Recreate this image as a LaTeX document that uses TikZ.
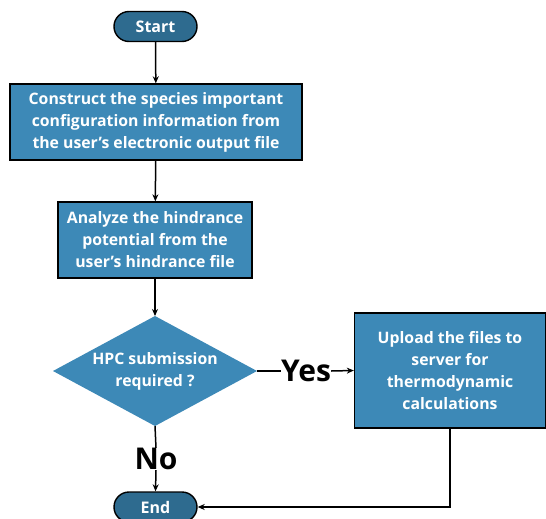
\documentclass[tikz,border=0pt]{standalone}
\usepackage{fontspec}
\setmainfont{Open Sans}
\usetikzlibrary{shapes.geometric,arrows.meta}
\definecolor{termblue}{HTML}{2E6B8F}
\definecolor{boxblue}{HTML}{3D89B7}
\begin{document}
\begin{tikzpicture}[x=1pt,y=-1pt,
  term/.style={draw=black,line width=1.4pt,fill=termblue,rounded corners=15pt,minimum width=83pt,minimum height=30pt,text=white,font=\bfseries\fontsize{16}{18}\selectfont,inner sep=0pt},
  procbox/.style={draw=black,line width=1.4pt,fill=boxblue,text=white,font=\bfseries\fontsize{15.8}{22}\selectfont,align=center,inner sep=0pt},
  conn/.style={line width=1.5pt,-{Stealth[length=7pt,width=6pt]}},
  plain/.style={line width=1.5pt},
  lbl/.style={font=\bfseries\fontsize{30}{32}\selectfont,inner sep=0pt}]
\useasboundingbox (0,0) rectangle (546,519);
\node[term] (start) at (155.5,26.5) {Start};
\node[procbox,minimum width=292pt,minimum height=76pt] (b1) at (156,122) {Construct the species important\\configuration information from\\the user’s electronic output file};
\node[procbox,minimum width=194pt,minimum height=76pt] (b2) at (155,240) {Analyze the hindrance\\potential from the\\user’s hindrance file};
\path[fill=boxblue] (53,371) -- (155,316) -- (257,371) -- (155,426) -- cycle;
\node[text=white,font=\bfseries\fontsize{15.8}{22}\selectfont,align=center] (d) at (155,371) {HPC submission\\required ?};
\coordinate (dt) at (155,316);
\coordinate (dr) at (257,371);
\coordinate (db) at (155,426);
\node[procbox,minimum width=191pt,minimum height=115pt] (b3) at (450,370.5) {Upload the files to\\server for\\thermodynamic\\calculations};
\node[term] (end) at (155.5,507) {End};
\node[lbl] (yes) at (306,371) {Yes};
\node[lbl] (no) at (156,459) {No};
\draw[conn] (start) -- (b1);
\draw[conn] (b1) -- (b2);
\draw[conn] (b2) -- (dt);
\draw[plain] (dr) -- (yes.west);
\draw[conn] (yes.east) -- (b3.west);
\draw[plain] (db) -- (no.north);
\draw[conn] (no.south) -- (end.north);
\draw[conn] (b3.south) |- (end.east);
\end{tikzpicture}
\end{document}
